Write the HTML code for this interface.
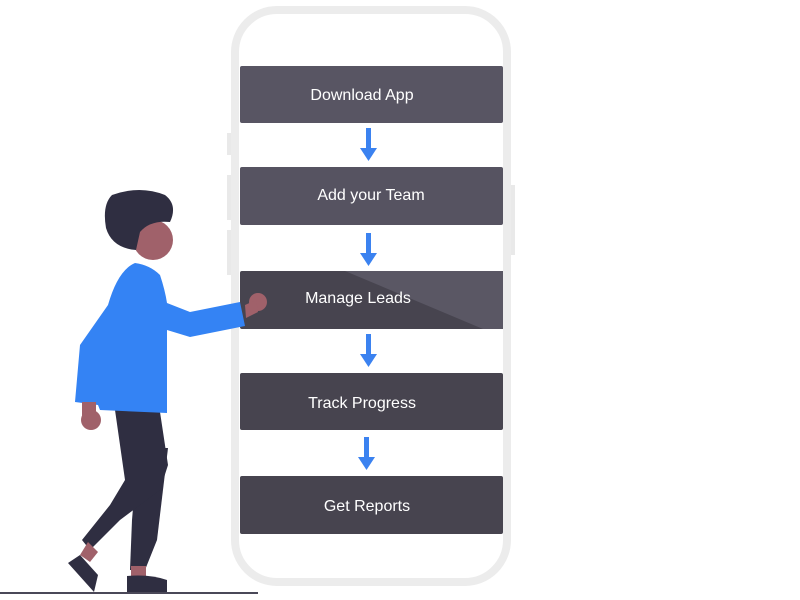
<!DOCTYPE html>
<html><head><style>
html,body{margin:0;padding:0;background:#fff;width:800px;height:600px;overflow:hidden}
svg{display:block}
text{font-family:"Liberation Sans",sans-serif;fill:#fff;font-size:16px;text-anchor:middle}
</style></head><body>
<svg width="800" height="600" viewBox="0 0 800 600">
<rect x="235" y="10" width="272" height="572" rx="42" fill="#fff" stroke="#ececec" stroke-width="8"/>
<rect x="227" y="133" width="4" height="22" fill="#e9e9e9"/>
<rect x="227" y="175" width="4" height="45" fill="#e9e9e9"/>
<rect x="227" y="230" width="4" height="45" fill="#e9e9e9"/>
<rect x="511" y="185" width="4" height="70" fill="#e9e9e9"/>
<g>
<rect x="240" y="66" width="263" height="57" rx="2" fill="#585563"/>
<text x="362" y="100">Download App</text>
<rect x="240" y="167" width="263" height="58" rx="2" fill="#565361"/>
<text x="371" y="200">Add your Team</text>
<rect x="240" y="271" width="263" height="58" rx="2" fill="#47444f"/>
<polygon points="345,271 503,271 503,329 483,329" fill="#5a5764"/>
<text x="358" y="303">Manage Leads</text>
<rect x="240" y="373" width="263" height="57" rx="2" fill="#47444f"/>
<text x="362" y="408">Track Progress</text>
<rect x="240" y="476" width="263" height="58" rx="2" fill="#47444f"/>
<text x="367" y="511">Get Reports</text>
</g>
<g fill="#3b82f0">
<rect x="366" y="128" width="5" height="22"/><polygon points="360,148 377,148 368.5,161"/>
<rect x="366" y="233" width="5" height="22"/><polygon points="360,253 377,253 368.5,266"/>
<rect x="366" y="334" width="5" height="22"/><polygon points="360,354 377,354 368.5,367"/>
<rect x="364" y="437" width="5" height="22"/><polygon points="358,457 375,457 366.5,470"/>
</g>
<rect x="0" y="592" width="258" height="2" fill="#4a4858"/>
<!-- person -->
<circle cx="153" cy="240" r="20" fill="#a0616a"/>
<path d="M112,195 Q140,185 165,195 Q178,205 170,222 Q150,220 140,232 L136,250 Q112,248 106,228 Q102,205 112,195Z" fill="#2f2e41"/>
<path d="M138,448 L168,448 L157,540 L145,570 L130,570 L132,520Z" fill="#2f2e41"/>
<path d="M115,410 L160,412 L168,465 L160,490 L120,520 L90,550 L82,540 L110,505 L125,480Z" fill="#2f2e41"/>
<rect x="131" y="566" width="15" height="10" fill="#a0616a"/>
<path d="M88,542 L98,552 L90,562 L80,555Z" fill="#a0616a"/>
<path d="M127,576 Q150,574 167,580 L167,592 L127,592Z" fill="#2f2e41"/>
<path d="M68,563 L80,555 L98,575 L94,592 Z" fill="#2f2e41"/>
<path d="M135,263 Q150,265 160,275 Q165,290 167,303 L190,312 L240,302 L245,326 L190,337 L167,330 L167,413 L100,410 L98,405 L75,402 L80,345 L108,305 Q118,270 135,263Z" fill="#3483f4"/>
<circle cx="258" cy="302" r="9" fill="#a0616a"/>
<path d="M245,305 L256,300 L258,312 L246,318Z" fill="#a0616a"/>
<rect x="82" y="402" width="14" height="14" fill="#a0616a"/>
<circle cx="91" cy="420" r="10" fill="#a0616a"/>
</svg>
</body></html>
